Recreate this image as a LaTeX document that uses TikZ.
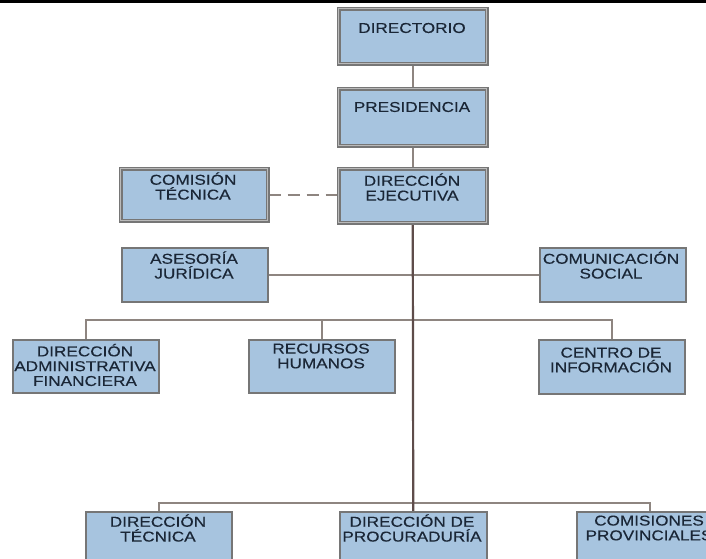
\documentclass[tikz,border=0pt]{standalone}
\usepackage{fontspec}
\usetikzlibrary{backgrounds}
\setmainfont{Liberation Sans}[FakeStretch=1.2, FakeBold=0.35]
\definecolor{boxfill}{HTML}{A7C4DF}
\definecolor{boxline}{HTML}{767676}
\definecolor{txtcol}{HTML}{1A2636}
\definecolor{conncol}{HTML}{8E8580}
\definecolor{maincol}{HTML}{5E4C4A}
\tikzset{
  topbox/.style={rectangle, fill=boxfill, draw=boxline, line width=1.5pt,
    double=boxline!50, double distance=1.4pt, inner sep=0pt, anchor=north west},
  lowbox/.style={rectangle, fill=boxfill, draw=boxline, line width=1.5pt,
    inner sep=0pt, anchor=north west},
  boxtext/.style={inner sep=0pt, align=center, text=txtcol,
    font=\fontsize{14.3}{14.8}\selectfont},
  conn/.style={draw=conncol, line width=1.7pt},
  mainconn/.style={draw=maincol, line width=2.2pt},
  dashconn/.style={draw=conncol, line width=1.5pt, dash pattern=on 12pt off 7pt}
}
\begin{document}
\begin{tikzpicture}[x=1pt, y=-1pt]
\useasboundingbox (0,0) rectangle (706,558);
\clip (0,0) rectangle (706,558);
\fill[black] (0,0) rectangle (706,2.5);

% boxes
\node[topbox, minimum width=148pt, minimum height=55pt] (dir) at (338,8) {};
\node[topbox, minimum width=148pt, minimum height=57pt] (pres) at (338,88) {};
\node[topbox, minimum width=148pt, minimum height=54pt] (ejec) at (338,168) {};
\node[topbox, minimum width=147pt, minimum height=52pt] (comt) at (120,168) {};
\node[lowbox, minimum width=146pt, minimum height=54pt] (ases) at (121,247) {};
\node[lowbox, minimum width=146pt, minimum height=54pt] (comu) at (539,247) {};
\node[lowbox, minimum width=146pt, minimum height=53pt] (daf) at (12,339) {};
\node[lowbox, minimum width=146pt, minimum height=53pt] (rrhh) at (248,339) {};
\node[lowbox, minimum width=146pt, minimum height=54pt] (cinf) at (538,339) {};
\node[lowbox, minimum width=146pt, minimum height=60pt] (dtec) at (85,511) {};
\node[lowbox, minimum width=147pt, minimum height=60pt] (dproc) at (339,511) {};
\node[lowbox, minimum width=146pt, minimum height=60pt] (cprov) at (576,511) {};

\coordinate (busA) at (412,320);
\coordinate (busB) at (412,503);

% connectors (behind boxes)
\begin{scope}[on background layer]
  \draw[conn] (dir.south) -- (pres.north);
  \draw[conn] (pres.south) -- (ejec.north);
  \draw[dashconn] (comt.east) -- (comt.east -| ejec.west);
  \draw[conn] (ases.east) -- (comu.west);
  \draw[conn] (daf.north) |- (busA) -| (cinf.north);
  \draw[conn] (rrhh.north) |- (busA);
  \draw[conn] (dtec.north) |- (busB) -| (cprov.north);
  \draw[mainconn] (ejec.south) -- (dproc.north);
\end{scope}

% texts
\node[boxtext] (dirT) at (412,28) {DIRECTORIO};
\node[boxtext] (presT) at (412,107) {PRESIDENCIA};
\node[boxtext] (ejecT) at (412,187) {DIRECCIÓN\\EJECUTIVA};
\node[boxtext] (comtT) at (193,186) {COMISIÓN\\TÉCNICA};
\node[boxtext] (asesT) at (194,265) {ASESORÍA\\JURÍDICA};
\node[boxtext] (comuT) at (611,265) {COMUNICACIÓN\\SOCIAL};
\node[boxtext] (dafT) at (85,365) {DIRECCIÓN\\ADMINISTRATIVA\\FINANCIERA};
\node[boxtext] (rrhhT) at (321,356) {RECURSOS\\HUMANOS};
\node[boxtext] (cinfT) at (611,360) {CENTRO DE\\INFORMACIÓN};
\node[boxtext] (dtecT) at (158,528) {DIRECCIÓN\\TÉCNICA};
\node[boxtext] (dprocT) at (412,528) {DIRECCIÓN DE\\PROCURADURÍA};
\node[boxtext] (cprovT) at (649,528) {COMISIONES\\PROVINCIALES};
\end{tikzpicture}
\end{document}
